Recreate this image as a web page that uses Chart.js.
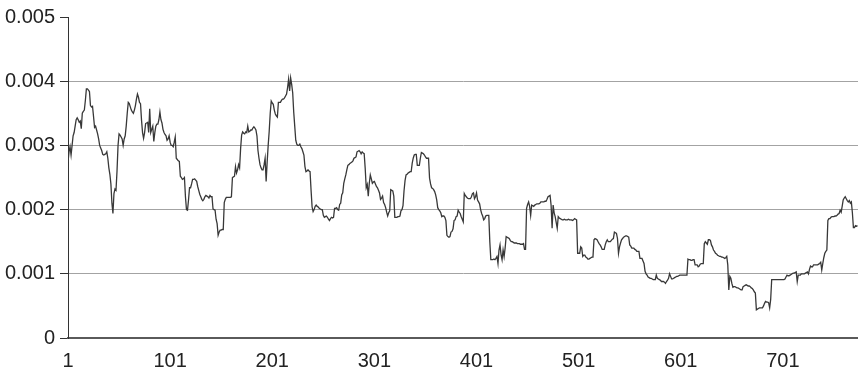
<!DOCTYPE html>
<html>
<head>
<meta charset="utf-8">
<script src="https://cdn.jsdelivr.net/npm/chart.js@4"></script>
<style>
  html, body { margin: 0; padding: 0; background: #ffffff; }
  #chart { display: block; }
</style>
</head>
<body>
<canvas id="chart" width="858" height="375"></canvas>
<script>
// Daily series, one value per observation (observation 1 .. 774)
const spread = [
  0.00274, 0.0029, 0.00298, 0.00285, 0.003, 0.00315, 0.0032, 0.0033, 0.0034, 0.00343,
  0.0034, 0.00336, 0.00338, 0.00326, 0.0035, 0.00353, 0.00355, 0.0037, 0.00388, 0.00388,
  0.00386, 0.00384, 0.00362, 0.0036, 0.00361, 0.00345, 0.00328, 0.0033, 0.00324, 0.00318,
  0.0031, 0.003, 0.00296, 0.00292, 0.00286, 0.00285, 0.00286, 0.00287, 0.0029, 0.0028,
  0.00265, 0.00255, 0.0024, 0.0021, 0.00194, 0.00225, 0.00232, 0.0023, 0.0026, 0.003,
  0.00318, 0.00316, 0.00313, 0.0031, 0.003, 0.0031, 0.00315, 0.0033, 0.0035, 0.00367,
  0.00365, 0.0036, 0.00355, 0.00352, 0.0035, 0.00355, 0.00362, 0.00372, 0.0038, 0.00375,
  0.00367, 0.00365, 0.00339, 0.0032, 0.00311, 0.0032, 0.00334, 0.00335, 0.00336, 0.0032,
  0.00357, 0.0032, 0.00325, 0.0033, 0.00306, 0.0032, 0.0033, 0.00333, 0.00333, 0.0034,
  0.00352, 0.0034, 0.00335, 0.00325, 0.0032, 0.00317, 0.00315, 0.00308, 0.0031, 0.00315,
  0.00305, 0.003, 0.003, 0.00298, 0.00305, 0.00313, 0.0028, 0.00278, 0.00276, 0.00275,
  0.00252, 0.0025, 0.00247, 0.00248, 0.0025, 0.0022, 0.002, 0.00199, 0.00215, 0.00234,
  0.00234, 0.0024, 0.00247, 0.00247, 0.00248, 0.00246, 0.00244, 0.00236, 0.0023, 0.00224,
  0.0022, 0.00216, 0.00214, 0.00216, 0.0022, 0.00222, 0.00221, 0.0022, 0.00218, 0.00222,
  0.0022, 0.0022, 0.00201, 0.002, 0.00199, 0.00185, 0.00178, 0.0016, 0.00165, 0.00168,
  0.00168, 0.00169, 0.00169, 0.00211, 0.00216, 0.00219, 0.00219, 0.00219, 0.00219, 0.00219,
  0.0022, 0.0025, 0.00251, 0.00252, 0.00267, 0.00257, 0.00262, 0.0027, 0.00265, 0.00295,
  0.00316, 0.00321, 0.00319, 0.00318, 0.00321, 0.0032, 0.0033, 0.00321, 0.00322, 0.00324,
  0.00324, 0.00327, 0.00329, 0.00327, 0.00324, 0.00315, 0.00292, 0.0028, 0.0027, 0.00265,
  0.00262, 0.00262, 0.0027, 0.0028, 0.00244, 0.00274, 0.003, 0.00322, 0.0035, 0.00369,
  0.00366, 0.00364, 0.00355, 0.00349, 0.00346, 0.00344, 0.00367, 0.00367, 0.00367, 0.0037,
  0.00372, 0.00372, 0.00374, 0.00377, 0.0038, 0.0039, 0.00403, 0.00385, 0.00405, 0.00395,
  0.00382, 0.00352, 0.0033, 0.00308, 0.00302, 0.003, 0.003, 0.00302, 0.00298, 0.00295,
  0.0029, 0.00285, 0.00267, 0.00259, 0.0026, 0.00262, 0.0026, 0.00259, 0.0023, 0.00204,
  0.00197, 0.002, 0.00205, 0.00207, 0.00205, 0.00204, 0.00202, 0.00201, 0.002, 0.002,
  0.00191, 0.00188, 0.00189, 0.0019, 0.00188, 0.00185, 0.00183, 0.00186, 0.00188, 0.00187,
  0.00188, 0.00202, 0.00202, 0.00203, 0.002, 0.00199, 0.00208, 0.0021, 0.00223, 0.00226,
  0.00241, 0.00248, 0.00254, 0.00262, 0.00269, 0.0027, 0.00272, 0.00273, 0.00274, 0.00276,
  0.0028, 0.00281, 0.00282, 0.0029, 0.00291, 0.00292, 0.0029, 0.00287, 0.0029, 0.00288,
  0.00287, 0.00264, 0.00234, 0.00239, 0.00221, 0.00241, 0.00254, 0.00248, 0.00241, 0.00243,
  0.00244, 0.0024, 0.00236, 0.00234, 0.0023, 0.00226, 0.00216, 0.00218, 0.00221, 0.00211,
  0.00208, 0.00203, 0.00196, 0.0019, 0.00195, 0.00198, 0.00231, 0.0023, 0.00229, 0.00221,
  0.00188, 0.00188, 0.00188, 0.00189, 0.00189, 0.0019, 0.00198, 0.002, 0.00206, 0.00229,
  0.00245, 0.00254, 0.00255, 0.00257, 0.00258, 0.00259, 0.00259, 0.00272, 0.0028, 0.00285,
  0.00286, 0.00286, 0.00269, 0.00269, 0.00269, 0.0028, 0.00289, 0.00288, 0.00287, 0.00285,
  0.00282, 0.0028, 0.0028, 0.0028, 0.00249, 0.0024, 0.00234, 0.00233, 0.00231, 0.00228,
  0.00223, 0.00215, 0.00203, 0.002, 0.00198, 0.00195, 0.00189, 0.0019, 0.0019, 0.00188,
  0.00183, 0.0016, 0.00158, 0.00157, 0.00158, 0.00165, 0.00166, 0.0017, 0.00183, 0.00184,
  0.00189, 0.0019, 0.00199, 0.00196, 0.00194, 0.00189, 0.00185, 0.00181, 0.00225, 0.00222,
  0.0022, 0.00218, 0.00217, 0.00217, 0.00217, 0.0022, 0.00225, 0.00226, 0.00217, 0.0022,
  0.00226, 0.00215, 0.00212, 0.00209, 0.002, 0.00194, 0.0019, 0.00184, 0.00186, 0.0019,
  0.00191, 0.00191, 0.00191, 0.0015, 0.00122, 0.00122, 0.00122, 0.00123, 0.00122, 0.00124,
  0.00127, 0.00116, 0.00137, 0.00145, 0.0013, 0.00122, 0.00137, 0.00127, 0.0014, 0.00158,
  0.00157, 0.00156, 0.00155, 0.00152, 0.0015, 0.0015, 0.00149, 0.00148, 0.00148, 0.00148,
  0.00147, 0.00147, 0.00147, 0.00146, 0.00146, 0.00146, 0.00147, 0.00138, 0.00138, 0.00202,
  0.00208, 0.00212, 0.00205, 0.00191, 0.00207, 0.00206, 0.00205, 0.00207, 0.00208, 0.00209,
  0.00209, 0.00209, 0.0021, 0.00212, 0.00212, 0.00212, 0.00212, 0.00213, 0.00213, 0.00216,
  0.0022, 0.00221, 0.00222, 0.00207, 0.00171, 0.00207, 0.00195, 0.00189, 0.0018, 0.00171,
  0.00189, 0.00187, 0.00186, 0.00185, 0.00184, 0.00184, 0.00185, 0.00184, 0.00184, 0.00184,
  0.00185, 0.00184, 0.00184, 0.00184, 0.00183, 0.00184, 0.00186, 0.00185, 0.00184, 0.00132,
  0.00132, 0.00132, 0.00142, 0.0014, 0.00127, 0.00129, 0.00129, 0.00126, 0.00125, 0.00123,
  0.00123, 0.00124, 0.00125, 0.00126, 0.00126, 0.00153, 0.00155, 0.00154, 0.00153, 0.0015,
  0.00147, 0.00145, 0.00142, 0.00138, 0.00138, 0.00138, 0.00145, 0.0015, 0.00153, 0.0015,
  0.0015, 0.0015, 0.00152, 0.00154, 0.00155, 0.00165, 0.00164, 0.00163, 0.00155, 0.00132,
  0.00142, 0.00148, 0.00153, 0.00155, 0.00157, 0.00158, 0.00159, 0.00159, 0.00158, 0.00157,
  0.00145, 0.00143, 0.0014, 0.0014, 0.0014, 0.00138, 0.00137, 0.00135, 0.00135, 0.00135,
  0.00124, 0.00124, 0.00124, 0.0012, 0.00116, 0.00104, 0.001, 0.00098, 0.00095, 0.00094,
  0.00093, 0.00093, 0.00092, 0.00091, 0.00091, 0.00091, 0.00098, 0.00093, 0.00092, 0.00091,
  0.0009, 0.00088, 0.00088, 0.00088, 0.00087, 0.00085, 0.00088, 0.0009, 0.00093, 0.001,
  0.00096, 0.00092, 0.00092, 0.00093, 0.00094, 0.00095, 0.00096, 0.00096, 0.00097, 0.00098,
  0.00098, 0.00098, 0.00098, 0.00098, 0.00098, 0.00098, 0.00098, 0.00123, 0.00122, 0.00122,
  0.00121, 0.00121, 0.00122, 0.00122, 0.00114, 0.00114, 0.00114, 0.00111, 0.00112, 0.00115,
  0.00116, 0.00116, 0.00116, 0.00147, 0.0015, 0.00148, 0.00146, 0.00153, 0.00153, 0.00152,
  0.00145, 0.00142, 0.00137, 0.00135, 0.00132, 0.00131, 0.00129, 0.00128, 0.00127, 0.00127,
  0.00126, 0.00126, 0.00125, 0.00124, 0.00125, 0.00127, 0.00114, 0.00075, 0.00096, 0.00093,
  0.00085, 0.00079, 0.0008, 0.0008, 0.00079, 0.00078, 0.00078, 0.00077, 0.00076, 0.00075,
  0.00075, 0.0008, 0.00081, 0.00082, 0.00083, 0.00082, 0.00081, 0.00081, 0.0008, 0.00078,
  0.00077, 0.00075, 0.00072, 0.0007, 0.00044, 0.00045, 0.00046, 0.00047, 0.00047, 0.00047,
  0.00047, 0.0005, 0.00054, 0.00057, 0.00056, 0.00056, 0.00055, 0.00047, 0.0006, 0.00091,
  0.00091, 0.00091, 0.00091, 0.00091, 0.00091, 0.00091, 0.00091, 0.00091, 0.00091, 0.00091,
  0.00091, 0.00091, 0.00092, 0.00095, 0.00098, 0.00097, 0.00097, 0.00098, 0.00099, 0.001,
  0.00101, 0.00101, 0.00102, 0.00103, 0.00088, 0.00098, 0.00098, 0.00098, 0.001, 0.001,
  0.001, 0.001, 0.00101, 0.00102, 0.00103, 0.001, 0.00107, 0.00112, 0.00111, 0.00111,
  0.00114, 0.00114, 0.00114, 0.00114, 0.00114, 0.00115, 0.00116, 0.00118, 0.00106, 0.00116,
  0.00125, 0.00132, 0.00135, 0.00137, 0.00183, 0.00186, 0.00186, 0.00188, 0.00189, 0.00189,
  0.00189, 0.0019, 0.0019, 0.00191, 0.00193, 0.00194, 0.00199, 0.00196, 0.00205, 0.00215,
  0.00218, 0.0022, 0.00217, 0.00214, 0.00212, 0.00214, 0.0021, 0.00212, 0.00195, 0.00172,
  0.00172, 0.00175, 0.00174, 0.00175
];

// Observation numbers shown under the horizontal axis
const xTickLabels = [1, 101, 201, 301, 401, 501, 601, 701];
// Values marked on the vertical axis
const yTickValues = [0, 0.001, 0.002, 0.003, 0.004, 0.005];

const points = spread.map((v, k) => ({ x: k + 1, y: v }));

const FONT = { family: "'Liberation Sans', Arial, Helvetica, sans-serif", size: 20 };

new Chart(document.getElementById('chart'), {
  type: 'line',
  data: {
    datasets: [{
      data: points,
      borderColor: '#383838',
      borderWidth: 1.3,
      pointRadius: 0,
      tension: 0,
      fill: false
    }]
  },
  options: {
    responsive: false,
    animation: false,
    devicePixelRatio: 1,
    layout: { padding: { top: 13, right: 0, bottom: 0, left: 0 } },
    plugins: { legend: { display: false }, tooltip: { enabled: false } },
    scales: {
      x: {
        type: 'linear',
        min: 1,
        max: 774.5,
        afterBuildTicks: (scale) => { scale.ticks = xTickLabels.map(v => ({ value: v })); },
        afterFit: (scale) => { scale.height = 37; },
        ticks: {
          autoSkip: false,
          maxRotation: 0,
          padding: 11,
          color: '#222',
          font: FONT,
          callback: (v) => String(v)
        },
        grid: { display: false, drawTicks: false },
        border: { display: true, color: '#5a5a5a', width: 2 }
      },
      y: {
        min: 0,
        max: 0.005,
        afterBuildTicks: (scale) => { scale.ticks = yTickValues.map(v => ({ value: v })); },
        afterFit: (scale) => { scale.width = 68; },
        ticks: {
          padding: 5,
          color: '#222',
          font: FONT,
          callback: (v) => (v === 0 ? '0' : v.toFixed(3))
        },
        grid: {
          drawTicks: true,
          tickLength: 8,
          tickColor: '#333',
          lineWidth: 1,
          color: (ctx) => {
            const v = ctx.tick ? ctx.tick.value : null;
            return (v === 0 || v === 0.005) ? 'rgba(0,0,0,0)' : '#a3a3a3';
          }
        },
        border: { display: true, color: '#333', width: 1 }
      }
    }
  }
});
</script>
</body>
</html>
